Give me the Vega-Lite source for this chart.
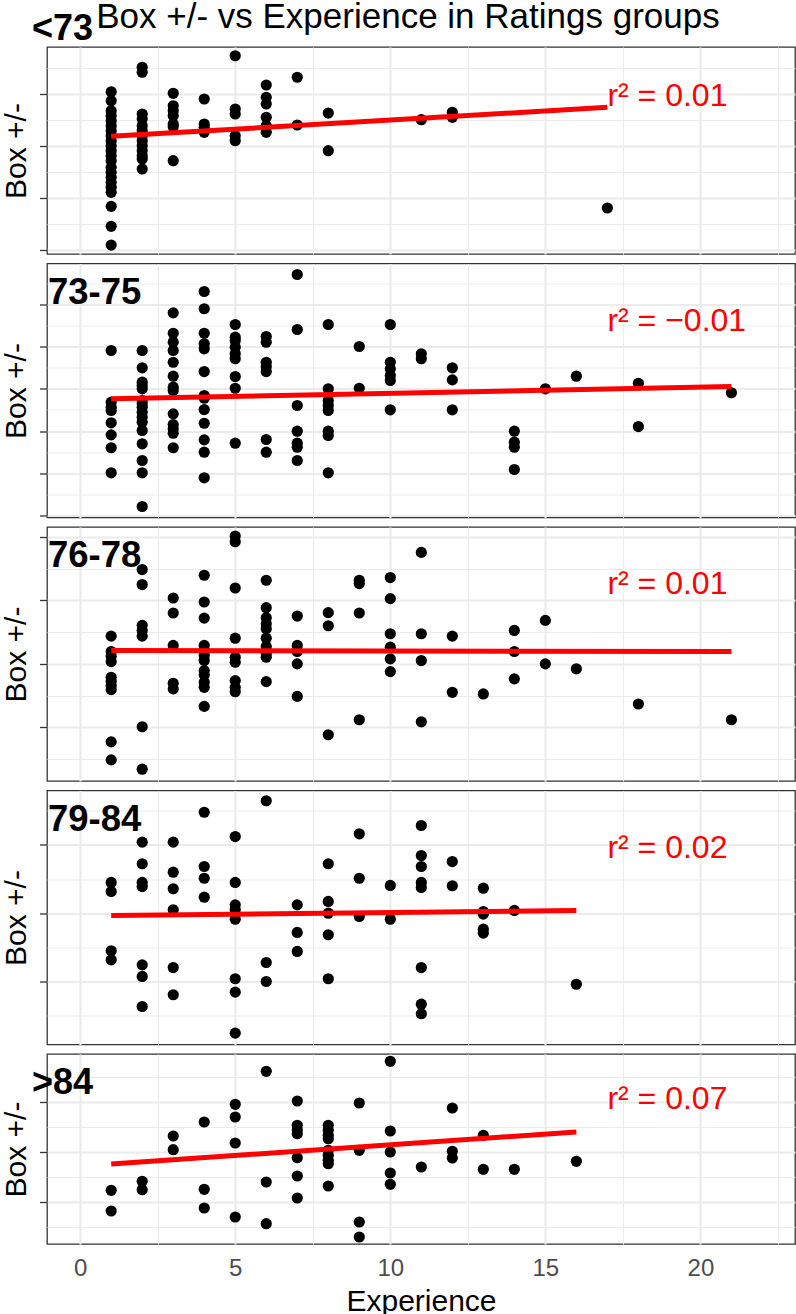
{
  "$schema": "https://vega.github.io/schema/vega-lite/v6.json",
  "padding": {"left": 1, "right": 3, "top": 0, "bottom": 0},
  "title": {"text": "Box +/- vs Experience in Ratings groups", "fontSize": 35, "fontWeight": "normal", "font": "Liberation Sans", "color": "black", "anchor": "start", "frame": "bounds", "dx": 95, "offset": -25},
  "config": {
    "font": "Liberation Sans",
    "view": {"stroke": "#333333", "strokeWidth": 1.3},
    "axis": {"gridColor": "#EBEBEB", "tickColor": "#333333", "tickWidth": 1.3, "tickSize": 7.5, "labelFont": "Liberation Sans", "titleFont": "Liberation Sans", "titleFontWeight": "normal", "titleColor": "black", "labelColor": "#4D4D4D", "titleFontSize": 30, "labelFontSize": 24, "domain": false}
  },
  "spacing": 7.5,
  "datasets": {
    "pts": [
      {"g":"<73","e":1,"b":0.22},{"g":"<73","e":1,"b":-0.64},{"g":"<73","e":1,"b":-1.61},{"g":"<73","e":1,"b":-2.09},{"g":"<73","e":1,"b":-2.57},{"g":"<73","e":1,"b":-3.05},{"g":"<73","e":1,"b":-3.53},{"g":"<73","e":1,"b":-4.01},{"g":"<73","e":1,"b":-4.49},{"g":"<73","e":1,"b":-4.97},{"g":"<73","e":1,"b":-5.45},{"g":"<73","e":1,"b":-5.93},{"g":"<73","e":1,"b":-6.41},{"g":"<73","e":1,"b":-7.05},{"g":"<73","e":1,"b":-7.53},{"g":"<73","e":1,"b":-8.01},{"g":"<73","e":1,"b":-8.49},{"g":"<73","e":1,"b":-8.97},{"g":"<73","e":1,"b":-9.45},{"g":"<73","e":1,"b":-10.8},{"g":"<73","e":1,"b":-12.72},{"g":"<73","e":1,"b":-14.52},
      {"g":"<73","e":2,"b":2.57},{"g":"<73","e":2,"b":2.09},{"g":"<73","e":2,"b":-1.92},{"g":"<73","e":2,"b":-2.4},{"g":"<73","e":2,"b":-3.05},{"g":"<73","e":2,"b":-3.53},{"g":"<73","e":2,"b":-4.01},{"g":"<73","e":2,"b":-4.49},{"g":"<73","e":2,"b":-4.97},{"g":"<73","e":2,"b":-5.45},{"g":"<73","e":2,"b":-5.93},{"g":"<73","e":2,"b":-6.25},{"g":"<73","e":2,"b":-7.21},
      {"g":"<73","e":3,"b":0.07},{"g":"<73","e":3,"b":-1.13},{"g":"<73","e":3,"b":-1.61},{"g":"<73","e":3,"b":-2.09},{"g":"<73","e":3,"b":-2.88},{"g":"<73","e":3,"b":-3.14},{"g":"<73","e":3,"b":-6.41},
      {"g":"<73","e":4,"b":-0.48},{"g":"<73","e":4,"b":-2.88},{"g":"<73","e":4,"b":-3.2},{"g":"<73","e":4,"b":-3.68},
      {"g":"<73","e":5,"b":3.68},{"g":"<73","e":5,"b":-1.44},{"g":"<73","e":5,"b":-1.92},{"g":"<73","e":5,"b":-4.01},{"g":"<73","e":5,"b":-4.49},
      {"g":"<73","e":6,"b":0.87},{"g":"<73","e":6,"b":-0.32},{"g":"<73","e":6,"b":-0.96},{"g":"<73","e":6,"b":-2.24},{"g":"<73","e":6,"b":-3.05},{"g":"<73","e":6,"b":-3.68},
      {"g":"<73","e":7,"b":1.61},{"g":"<73","e":7,"b":-2.98},
      {"g":"<73","e":8,"b":-1.83},{"g":"<73","e":8,"b":-5.45},
      {"g":"<73","e":11,"b":-2.47},
      {"g":"<73","e":12,"b":-1.76},{"g":"<73","e":12,"b":-2.24},
      {"g":"<73","e":17,"b":-10.96},

      {"g":"73-75","e":1,"b":4.53},{"g":"73-75","e":1,"b":-1.58},{"g":"73-75","e":1,"b":-2.17},{"g":"73-75","e":1,"b":-2.56},{"g":"73-75","e":1,"b":-4.02},{"g":"73-75","e":1,"b":-5.44},{"g":"73-75","e":1,"b":-6.97},{"g":"73-75","e":1,"b":-9.93},
      {"g":"73-75","e":2,"b":4.53},{"g":"73-75","e":2,"b":2.48},{"g":"73-75","e":2,"b":0.78},{"g":"73-75","e":2,"b":0.39},{"g":"73-75","e":2,"b":0},{"g":"73-75","e":2,"b":-1.38},{"g":"73-75","e":2,"b":-1.77},{"g":"73-75","e":2,"b":-2.17},{"g":"73-75","e":2,"b":-2.77},{"g":"73-75","e":2,"b":-3.36},{"g":"73-75","e":2,"b":-3.95},{"g":"73-75","e":2,"b":-4.93},{"g":"73-75","e":2,"b":-6.5},{"g":"73-75","e":2,"b":-8.47},{"g":"73-75","e":2,"b":-9.93},{"g":"73-75","e":2,"b":-13.91},
      {"g":"73-75","e":3,"b":8.98},{"g":"73-75","e":3,"b":6.57},{"g":"73-75","e":3,"b":5.51},{"g":"73-75","e":3,"b":4.53},{"g":"73-75","e":3,"b":3.14},{"g":"73-75","e":3,"b":1.49},{"g":"73-75","e":3,"b":0.19},{"g":"73-75","e":3,"b":-0.2},{"g":"73-75","e":3,"b":-2.96},{"g":"73-75","e":3,"b":-4.22},{"g":"73-75","e":3,"b":-4.73},{"g":"73-75","e":3,"b":-5.25},{"g":"73-75","e":3,"b":-6.97},
      {"g":"73-75","e":4,"b":11.5},{"g":"73-75","e":4,"b":9.46},{"g":"73-75","e":4,"b":6.57},{"g":"73-75","e":4,"b":5.32},{"g":"73-75","e":4,"b":4.73},{"g":"73-75","e":4,"b":2.04},{"g":"73-75","e":4,"b":-0.79},{"g":"73-75","e":4,"b":-1.11},{"g":"73-75","e":4,"b":-2.45},{"g":"73-75","e":4,"b":-4.07},{"g":"73-75","e":4,"b":-6.03},{"g":"73-75","e":4,"b":-7.49},{"g":"73-75","e":4,"b":-10.52},
      {"g":"73-75","e":5,"b":7.6},{"g":"73-75","e":5,"b":6.1},{"g":"73-75","e":5,"b":5.71},{"g":"73-75","e":5,"b":4.92},{"g":"73-75","e":5,"b":4.14},{"g":"73-75","e":5,"b":3.55},{"g":"73-75","e":5,"b":1.45},{"g":"73-75","e":5,"b":0.07},{"g":"73-75","e":5,"b":-6.43},
      {"g":"73-75","e":6,"b":6.18},{"g":"73-75","e":6,"b":5.51},{"g":"73-75","e":6,"b":3.14},{"g":"73-75","e":6,"b":2.64},{"g":"73-75","e":6,"b":2.04},{"g":"73-75","e":6,"b":-5.99},{"g":"73-75","e":6,"b":-7.49},
      {"g":"73-75","e":7,"b":13.51},{"g":"73-75","e":7,"b":7.01},{"g":"73-75","e":7,"b":-1.97},{"g":"73-75","e":7,"b":-5.01},{"g":"73-75","e":7,"b":-6.43},{"g":"73-75","e":7,"b":-6.9},{"g":"73-75","e":7,"b":-8.47},
      {"g":"73-75","e":8,"b":7.6},{"g":"73-75","e":8,"b":0},{"g":"73-75","e":8,"b":-1.38},{"g":"73-75","e":8,"b":-1.97},{"g":"73-75","e":8,"b":-2.56},{"g":"73-75","e":8,"b":-5.01},{"g":"73-75","e":8,"b":-5.52},{"g":"73-75","e":8,"b":-9.93},
      {"g":"73-75","e":9,"b":5.0},{"g":"73-75","e":9,"b":0.07},
      {"g":"73-75","e":10,"b":7.6},{"g":"73-75","e":10,"b":3.14},{"g":"73-75","e":10,"b":2.36},{"g":"73-75","e":10,"b":1.57},{"g":"73-75","e":10,"b":0.98},{"g":"73-75","e":10,"b":-2.48},
      {"g":"73-75","e":11,"b":4.14},{"g":"73-75","e":11,"b":3.55},
      {"g":"73-75","e":12,"b":2.48},{"g":"73-75","e":12,"b":1.06},{"g":"73-75","e":12,"b":-2.48},
      {"g":"73-75","e":14,"b":-5.01},{"g":"73-75","e":14,"b":-6.31},{"g":"73-75","e":14,"b":-6.9},{"g":"73-75","e":14,"b":-9.54},
      {"g":"73-75","e":15,"b":0},
      {"g":"73-75","e":16,"b":1.49},
      {"g":"73-75","e":18,"b":0.66},{"g":"73-75","e":18,"b":-4.46},
      {"g":"73-75","e":21,"b":-0.47},

      {"g":"76-78","e":1,"b":2.18},{"g":"76-78","e":1,"b":0.97},{"g":"76-78","e":1,"b":0.6},{"g":"76-78","e":1,"b":0.18},{"g":"76-78","e":1,"b":-1.06},{"g":"76-78","e":1,"b":-1.37},{"g":"76-78","e":1,"b":-1.71},{"g":"76-78","e":1,"b":-2.03},{"g":"76-78","e":1,"b":-6.14},{"g":"76-78","e":1,"b":-7.56},
      {"g":"76-78","e":2,"b":7.42},{"g":"76-78","e":2,"b":6.24},{"g":"76-78","e":2,"b":3.03},{"g":"76-78","e":2,"b":2.63},{"g":"76-78","e":2,"b":2.18},{"g":"76-78","e":2,"b":-4.95},{"g":"76-78","e":2,"b":-8.29},
      {"g":"76-78","e":3,"b":5.18},{"g":"76-78","e":3,"b":4.0},{"g":"76-78","e":3,"b":1.45},{"g":"76-78","e":3,"b":-1.53},{"g":"76-78","e":3,"b":-1.97},
      {"g":"76-78","e":4,"b":6.97},{"g":"76-78","e":4,"b":4.87},{"g":"76-78","e":4,"b":3.6},{"g":"76-78","e":4,"b":1.45},{"g":"76-78","e":4,"b":1.05},{"g":"76-78","e":4,"b":0.66},{"g":"76-78","e":4,"b":0.26},{"g":"76-78","e":4,"b":-0.53},{"g":"76-78","e":4,"b":-0.87},{"g":"76-78","e":4,"b":-1.45},{"g":"76-78","e":4,"b":-1.85},{"g":"76-78","e":4,"b":-3.35},
      {"g":"76-78","e":5,"b":10.06},{"g":"76-78","e":5,"b":9.61},{"g":"76-78","e":5,"b":5.97},{"g":"76-78","e":5,"b":2.02},{"g":"76-78","e":5,"b":0.52},{"g":"76-78","e":5,"b":0.13},{"g":"76-78","e":5,"b":-1.32},{"g":"76-78","e":5,"b":-1.85},{"g":"76-78","e":5,"b":-2.19},
      {"g":"76-78","e":6,"b":6.58},{"g":"76-78","e":6,"b":4.42},{"g":"76-78","e":6,"b":3.63},{"g":"76-78","e":6,"b":3.16},{"g":"76-78","e":6,"b":2.76},{"g":"76-78","e":6,"b":2.02},{"g":"76-78","e":6,"b":1.37},{"g":"76-78","e":6,"b":0.79},{"g":"76-78","e":6,"b":0.52},{"g":"76-78","e":6,"b":-1.4},
      {"g":"76-78","e":7,"b":3.76},{"g":"76-78","e":7,"b":1.45},{"g":"76-78","e":7,"b":0.97},{"g":"76-78","e":7,"b":0},{"g":"76-78","e":7,"b":-2.56},
      {"g":"76-78","e":8,"b":4.03},{"g":"76-78","e":8,"b":3.0},{"g":"76-78","e":8,"b":-5.58},
      {"g":"76-78","e":9,"b":6.58},{"g":"76-78","e":9,"b":6.32},{"g":"76-78","e":9,"b":4.0},{"g":"76-78","e":9,"b":-4.4},
      {"g":"76-78","e":10,"b":6.79},{"g":"76-78","e":10,"b":5.13},{"g":"76-78","e":10,"b":2.37},{"g":"76-78","e":10,"b":1.31},{"g":"76-78","e":10,"b":0.39},{"g":"76-78","e":10,"b":-0.61},
      {"g":"76-78","e":11,"b":8.77},{"g":"76-78","e":11,"b":2.37},{"g":"76-78","e":11,"b":0.26},{"g":"76-78","e":11,"b":-4.56},
      {"g":"76-78","e":12,"b":2.18},{"g":"76-78","e":12,"b":-2.24},
      {"g":"76-78","e":13,"b":-2.37},
      {"g":"76-78","e":14,"b":2.63},{"g":"76-78","e":14,"b":0.97},{"g":"76-78","e":14,"b":-1.18},
      {"g":"76-78","e":15,"b":3.42},{"g":"76-78","e":15,"b":0},
      {"g":"76-78","e":16,"b":-0.39},
      {"g":"76-78","e":18,"b":-3.16},
      {"g":"76-78","e":21,"b":-4.4},

      {"g":"79-84","e":1,"b":2.25},{"g":"79-84","e":1,"b":1.59},{"g":"79-84","e":1,"b":-2.75},{"g":"79-84","e":1,"b":-3.41},
      {"g":"79-84","e":2,"b":5.2},{"g":"79-84","e":2,"b":3.62},{"g":"79-84","e":2,"b":2.25},{"g":"79-84","e":2,"b":1.95},{"g":"79-84","e":2,"b":-3.78},{"g":"79-84","e":2,"b":-4.63},{"g":"79-84","e":2,"b":-6.83},
      {"g":"79-84","e":3,"b":5.2},{"g":"79-84","e":3,"b":3.0},{"g":"79-84","e":3,"b":1.79},{"g":"79-84","e":3,"b":0.25},{"g":"79-84","e":3,"b":-3.98},{"g":"79-84","e":3,"b":-5.97},
      {"g":"79-84","e":4,"b":7.39},{"g":"79-84","e":4,"b":3.42},{"g":"79-84","e":4,"b":2.56},{"g":"79-84","e":4,"b":1.17},
      {"g":"79-84","e":5,"b":5.61},{"g":"79-84","e":5,"b":2.25},{"g":"79-84","e":5,"b":0.61},{"g":"79-84","e":5,"b":0.25},{"g":"79-84","e":5,"b":-0.44},{"g":"79-84","e":5,"b":-4.8},{"g":"79-84","e":5,"b":-5.78},{"g":"79-84","e":5,"b":-8.78},
      {"g":"79-84","e":6,"b":8.23},{"g":"79-84","e":6,"b":-3.61},{"g":"79-84","e":6,"b":-5.0},
      {"g":"79-84","e":7,"b":0.61},{"g":"79-84","e":7,"b":-1.41},{"g":"79-84","e":7,"b":-2.8},
      {"g":"79-84","e":8,"b":3.62},{"g":"79-84","e":8,"b":0.86},{"g":"79-84","e":8,"b":0},{"g":"79-84","e":8,"b":-1.58},{"g":"79-84","e":8,"b":-4.8},
      {"g":"79-84","e":9,"b":5.81},{"g":"79-84","e":9,"b":2.56},{"g":"79-84","e":9,"b":-0.24},
      {"g":"79-84","e":10,"b":2.03},{"g":"79-84","e":10,"b":-0.44},
      {"g":"79-84","e":11,"b":6.42},{"g":"79-84","e":11,"b":4.22},{"g":"79-84","e":11,"b":3.42},{"g":"79-84","e":11,"b":2.25},{"g":"79-84","e":11,"b":1.88},{"g":"79-84","e":11,"b":-3.98},{"g":"79-84","e":11,"b":-6.66},{"g":"79-84","e":11,"b":-7.36},
      {"g":"79-84","e":12,"b":3.78},{"g":"79-84","e":12,"b":2.01},
      {"g":"79-84","e":13,"b":1.83},{"g":"79-84","e":13,"b":0.12},{"g":"79-84","e":13,"b":-0.07},{"g":"79-84","e":13,"b":-1.17},{"g":"79-84","e":13,"b":-1.46},
      {"g":"79-84","e":14,"b":0.2},
      {"g":"79-84","e":16,"b":-5.2},

      {"g":">84","e":1,"b":-3.83},{"g":">84","e":1,"b":-5.9},
      {"g":">84","e":2,"b":-2.93},{"g":">84","e":2,"b":-3.77},
      {"g":">84","e":3,"b":1.6},{"g":">84","e":3,"b":0.23},
      {"g":">84","e":4,"b":3.0},{"g":">84","e":4,"b":-3.73},{"g":">84","e":4,"b":-5.6},
      {"g":">84","e":5,"b":4.77},{"g":">84","e":5,"b":3.5},{"g":">84","e":5,"b":0.9},{"g":">84","e":5,"b":-6.5},
      {"g":">84","e":6,"b":8.07},{"g":">84","e":6,"b":-3.0},{"g":">84","e":6,"b":-7.17},
      {"g":">84","e":7,"b":5.1},{"g":">84","e":7,"b":2.67},{"g":">84","e":7,"b":2.23},{"g":">84","e":7,"b":1.83},{"g":">84","e":7,"b":-0.57},{"g":">84","e":7,"b":-2.4},{"g":">84","e":7,"b":-4.6},
      {"g":">84","e":8,"b":2.67},{"g":">84","e":8,"b":2.17},{"g":">84","e":8,"b":1.67},{"g":">84","e":8,"b":1.33},{"g":">84","e":8,"b":0.17},{"g":">84","e":8,"b":-0.33},{"g":">84","e":8,"b":-0.83},{"g":">84","e":8,"b":-1.17},{"g":">84","e":8,"b":-3.4},
      {"g":">84","e":9,"b":4.9},{"g":">84","e":9,"b":0.17},{"g":">84","e":9,"b":-7.0},{"g":">84","e":9,"b":-8.5},
      {"g":">84","e":10,"b":9.07},{"g":">84","e":10,"b":2.1},{"g":">84","e":10,"b":0},{"g":">84","e":10,"b":-2.1},{"g":">84","e":10,"b":-3.23},
      {"g":">84","e":11,"b":-1.5},
      {"g":">84","e":12,"b":4.4},{"g":">84","e":12,"b":0.07},{"g":">84","e":12,"b":-0.6},
      {"g":">84","e":13,"b":1.67},{"g":">84","e":13,"b":-1.73},
      {"g":">84","e":14,"b":-1.73},
      {"g":">84","e":16,"b":-0.93}
    ],
    "fit": [
      {"g":"<73","e":1,"b":-4.07},{"g":"<73","e":17,"b":-1.28},
      {"g":"73-75","e":1,"b":-1.18},{"g":"73-75","e":21,"b":0.27},
      {"g":"76-78","e":1,"b":1.05},{"g":"76-78","e":21,"b":0.97},
      {"g":"79-84","e":1,"b":-0.17},{"g":"79-84","e":16,"b":0.2},
      {"g":">84","e":1,"b":-1.2},{"g":">84","e":16,"b":2.0}
    ],
    "stats": [
      {"g":"<73","r2":0.01},
      {"g":"73-75","r2":-0.01},
      {"g":"76-78","r2":0.01},
      {"g":"79-84","r2":0.02},
      {"g":">84","r2":0.07}
    ]
  },
  "vconcat": [
    {
      "width": 748, "height": 207,
      "resolve": {"axis": {"x": "independent", "y": "independent"}},
      "layer": [
        {"data": {"name": "pts"}, "transform": [{"filter": "datum.g === '<73'"}],
         "mark": {"type": "circle", "size": 125, "opacity": 1, "color": "black"},
         "encoding": {
           "x": {"field": "e", "type": "quantitative", "scale": {"domain": [-1.07, 23.05], "nice": false, "zero": false}, "axis": {"values": [0,5,10,15,20], "grid": true, "gridWidth": 2.2, "labels": false, "ticks": false, "title": null}},
           "y": {"field": "b", "type": "quantitative", "scale": {"domain": [-15.38, 4.52], "nice": false, "zero": false}, "axis": {"values": [-15,-10,-5,0], "grid": true, "gridWidth": 2.2, "labels": false, "ticks": true, "title": "Box +/-", "titlePadding": 7}}
         }},
        {"data": {"name": "fit"}, "transform": [{"filter": "datum.g === '<73'"}],
         "mark": {"type": "line", "color": "#FF0000", "strokeWidth": 5},
         "encoding": {
           "x": {"field": "e", "type": "quantitative", "scale": {"domain": [-1.07, 23.05], "nice": false, "zero": false}, "axis": {"values": [2.5,7.5,12.5,17.5,22.5], "grid": true, "gridWidth": 1.1, "labels": false, "ticks": false, "title": null}},
           "y": {"field": "b", "type": "quantitative", "scale": {"domain": [-15.38, 4.52], "nice": false, "zero": false}, "axis": {"values": [-12.5,-7.5,-2.5,2.5], "grid": true, "gridWidth": 1.1, "labels": false, "ticks": false, "title": null}}
         }},
        {"data": {"name": "stats"}, "transform": [{"filter": "datum.g === '<73'"}, {"calculate": "'r² = ' + (datum.r2 < 0 ? '−' : '') + format(abs(datum.r2), '.2f')", "as": "lab"}],
         "mark": {"type": "text", "align": "left", "baseline": "alphabetic", "fontSize": 32, "color": "#FF0000"},
         "encoding": {
           "x": {"datum": 17, "type": "quantitative", "scale": {"domain": [-1.07, 23.05], "nice": false, "zero": false}, "axis": null},
           "y": {"datum": -1.15, "type": "quantitative", "scale": {"domain": [-15.38, 4.52], "nice": false, "zero": false}, "axis": null},
           "text": {"field": "lab"}
         }},
        {"data": {"name": "stats"}, "transform": [{"filter": "datum.g === '<73'"}],
         "mark": {"type": "text", "align": "left", "baseline": "alphabetic", "fontSize": 36, "fontWeight": "bold", "color": "black", "dx": -15, "dy": -7},
         "encoding": {
           "x": {"datum": -1.07, "type": "quantitative", "scale": {"domain": [-1.07, 23.05], "nice": false, "zero": false}, "axis": null},
           "y": {"datum": 4.52, "type": "quantitative", "scale": {"domain": [-15.38, 4.52], "nice": false, "zero": false}, "axis": null},
           "text": {"field": "g"}
         }}
      ]
    },
    {
      "width": 748, "height": 254,
      "resolve": {"axis": {"x": "independent", "y": "independent"}},
      "layer": [
        {"data": {"name": "pts"}, "transform": [{"filter": "datum.g === '73-75'"}],
         "mark": {"type": "circle", "size": 125, "opacity": 1, "color": "black"},
         "encoding": {
           "x": {"field": "e", "type": "quantitative", "scale": {"domain": [-1.07, 23.05], "nice": false, "zero": false}, "axis": {"values": [0,5,10,15,20], "grid": true, "gridWidth": 2.2, "labels": false, "ticks": false, "title": null}},
           "y": {"field": "b", "type": "quantitative", "scale": {"domain": [-15.21, 14.81], "nice": false, "zero": false}, "axis": {"values": [-15,-10,-5,0,5,10], "grid": true, "gridWidth": 2.2, "labels": false, "ticks": true, "title": "Box +/-", "titlePadding": 7}}
         }},
        {"data": {"name": "fit"}, "transform": [{"filter": "datum.g === '73-75'"}],
         "mark": {"type": "line", "color": "#FF0000", "strokeWidth": 5},
         "encoding": {
           "x": {"field": "e", "type": "quantitative", "scale": {"domain": [-1.07, 23.05], "nice": false, "zero": false}, "axis": {"values": [2.5,7.5,12.5,17.5,22.5], "grid": true, "gridWidth": 1.1, "labels": false, "ticks": false, "title": null}},
           "y": {"field": "b", "type": "quantitative", "scale": {"domain": [-15.21, 14.81], "nice": false, "zero": false}, "axis": {"values": [-12.5,-7.5,-2.5,2.5,7.5,12.5], "grid": true, "gridWidth": 1.1, "labels": false, "ticks": false, "title": null}}
         }},
        {"data": {"name": "stats"}, "transform": [{"filter": "datum.g === '73-75'"}, {"calculate": "'r² = ' + (datum.r2 < 0 ? '−' : '') + format(abs(datum.r2), '.2f')", "as": "lab"}],
         "mark": {"type": "text", "align": "left", "baseline": "alphabetic", "fontSize": 32, "color": "#FF0000"},
         "encoding": {
           "x": {"datum": 17, "type": "quantitative", "scale": {"domain": [-1.07, 23.05], "nice": false, "zero": false}, "axis": null},
           "y": {"datum": 6.81, "type": "quantitative", "scale": {"domain": [-15.21, 14.81], "nice": false, "zero": false}, "axis": null},
           "text": {"field": "lab"}
         }},
        {"data": {"name": "stats"}, "transform": [{"filter": "datum.g === '73-75'"}],
         "mark": {"type": "text", "align": "left", "baseline": "alphabetic", "fontSize": 36.5, "fontWeight": "bold", "color": "black", "dx": 1, "dy": 40},
         "encoding": {
           "x": {"datum": -1.07, "type": "quantitative", "scale": {"domain": [-1.07, 23.05], "nice": false, "zero": false}, "axis": null},
           "y": {"datum": 14.81, "type": "quantitative", "scale": {"domain": [-15.21, 14.81], "nice": false, "zero": false}, "axis": null},
           "text": {"field": "g"}
         }}
      ]
    },
    {
      "width": 748, "height": 254,
      "resolve": {"axis": {"x": "independent", "y": "independent"}},
      "layer": [
        {"data": {"name": "pts"}, "transform": [{"filter": "datum.g === '76-78'"}],
         "mark": {"type": "circle", "size": 125, "opacity": 1, "color": "black"},
         "encoding": {
           "x": {"field": "e", "type": "quantitative", "scale": {"domain": [-1.07, 23.05], "nice": false, "zero": false}, "axis": {"values": [0,5,10,15,20], "grid": true, "gridWidth": 2.2, "labels": false, "ticks": false, "title": null}},
           "y": {"field": "b", "type": "quantitative", "scale": {"domain": [-9.22, 10.77], "nice": false, "zero": false}, "axis": {"values": [-5,0,5,10], "grid": true, "gridWidth": 2.2, "labels": false, "ticks": true, "title": "Box +/-", "titlePadding": 7}}
         }},
        {"data": {"name": "fit"}, "transform": [{"filter": "datum.g === '76-78'"}],
         "mark": {"type": "line", "color": "#FF0000", "strokeWidth": 5},
         "encoding": {
           "x": {"field": "e", "type": "quantitative", "scale": {"domain": [-1.07, 23.05], "nice": false, "zero": false}, "axis": {"values": [2.5,7.5,12.5,17.5,22.5], "grid": true, "gridWidth": 1.1, "labels": false, "ticks": false, "title": null}},
           "y": {"field": "b", "type": "quantitative", "scale": {"domain": [-9.22, 10.77], "nice": false, "zero": false}, "axis": {"values": [-7.5,-2.5,2.5,7.5], "grid": true, "gridWidth": 1.1, "labels": false, "ticks": false, "title": null}}
         }},
        {"data": {"name": "stats"}, "transform": [{"filter": "datum.g === '76-78'"}, {"calculate": "'r² = ' + (datum.r2 < 0 ? '−' : '') + format(abs(datum.r2), '.2f')", "as": "lab"}],
         "mark": {"type": "text", "align": "left", "baseline": "alphabetic", "fontSize": 32, "color": "#FF0000"},
         "encoding": {
           "x": {"datum": 17, "type": "quantitative", "scale": {"domain": [-1.07, 23.05], "nice": false, "zero": false}, "axis": null},
           "y": {"datum": 5.47, "type": "quantitative", "scale": {"domain": [-9.22, 10.77], "nice": false, "zero": false}, "axis": null},
           "text": {"field": "lab"}
         }},
        {"data": {"name": "stats"}, "transform": [{"filter": "datum.g === '76-78'"}],
         "mark": {"type": "text", "align": "left", "baseline": "alphabetic", "fontSize": 36.5, "fontWeight": "bold", "color": "black", "dx": 1, "dy": 40},
         "encoding": {
           "x": {"datum": -1.07, "type": "quantitative", "scale": {"domain": [-1.07, 23.05], "nice": false, "zero": false}, "axis": null},
           "y": {"datum": 10.77, "type": "quantitative", "scale": {"domain": [-9.22, 10.77], "nice": false, "zero": false}, "axis": null},
           "text": {"field": "g"}
         }}
      ]
    },
    {
      "width": 748, "height": 254,
      "resolve": {"axis": {"x": "independent", "y": "independent"}},
      "layer": [
        {"data": {"name": "pts"}, "transform": [{"filter": "datum.g === '79-84'"}],
         "mark": {"type": "circle", "size": 125, "opacity": 1, "color": "black"},
         "encoding": {
           "x": {"field": "e", "type": "quantitative", "scale": {"domain": [-1.07, 23.05], "nice": false, "zero": false}, "axis": {"values": [0,5,10,15,20], "grid": true, "gridWidth": 2.2, "labels": false, "ticks": false, "title": null}},
           "y": {"field": "b", "type": "quantitative", "scale": {"domain": [-9.61, 8.98], "nice": false, "zero": false}, "axis": {"values": [-5,0,5], "grid": true, "gridWidth": 2.2, "labels": false, "ticks": true, "title": "Box +/-", "titlePadding": 7}}
         }},
        {"data": {"name": "fit"}, "transform": [{"filter": "datum.g === '79-84'"}],
         "mark": {"type": "line", "color": "#FF0000", "strokeWidth": 5},
         "encoding": {
           "x": {"field": "e", "type": "quantitative", "scale": {"domain": [-1.07, 23.05], "nice": false, "zero": false}, "axis": {"values": [2.5,7.5,12.5,17.5,22.5], "grid": true, "gridWidth": 1.1, "labels": false, "ticks": false, "title": null}},
           "y": {"field": "b", "type": "quantitative", "scale": {"domain": [-9.61, 8.98], "nice": false, "zero": false}, "axis": {"values": [-7.5,-2.5,2.5,7.5], "grid": true, "gridWidth": 1.1, "labels": false, "ticks": false, "title": null}}
         }},
        {"data": {"name": "stats"}, "transform": [{"filter": "datum.g === '79-84'"}, {"calculate": "'r² = ' + (datum.r2 < 0 ? '−' : '') + format(abs(datum.r2), '.2f')", "as": "lab"}],
         "mark": {"type": "text", "align": "left", "baseline": "alphabetic", "fontSize": 32, "color": "#FF0000"},
         "encoding": {
           "x": {"datum": 17, "type": "quantitative", "scale": {"domain": [-1.07, 23.05], "nice": false, "zero": false}, "axis": null},
           "y": {"datum": 4.03, "type": "quantitative", "scale": {"domain": [-9.61, 8.98], "nice": false, "zero": false}, "axis": null},
           "text": {"field": "lab"}
         }},
        {"data": {"name": "stats"}, "transform": [{"filter": "datum.g === '79-84'"}],
         "mark": {"type": "text", "align": "left", "baseline": "alphabetic", "fontSize": 36.5, "fontWeight": "bold", "color": "black", "dx": 1, "dy": 40},
         "encoding": {
           "x": {"datum": -1.07, "type": "quantitative", "scale": {"domain": [-1.07, 23.05], "nice": false, "zero": false}, "axis": null},
           "y": {"datum": 8.98, "type": "quantitative", "scale": {"domain": [-9.61, 8.98], "nice": false, "zero": false}, "axis": null},
           "text": {"field": "g"}
         }}
      ]
    },
    {
      "width": 748, "height": 190,
      "resolve": {"axis": {"x": "independent", "y": "independent"}},
      "layer": [
        {"data": {"name": "pts"}, "transform": [{"filter": "datum.g === '>84'"}],
         "mark": {"type": "circle", "size": 125, "opacity": 1, "color": "black"},
         "encoding": {
           "x": {"field": "e", "type": "quantitative", "scale": {"domain": [-1.07, 23.05], "nice": false, "zero": false}, "axis": {"values": [0,5,10,15,20], "grid": true, "gridWidth": 2.2, "labels": true, "ticks": false, "labelPadding": 12, "title": "Experience", "titlePadding": 6, "orient": "bottom"}},
           "y": {"field": "b", "type": "quantitative", "scale": {"domain": [-9.2, 9.8], "nice": false, "zero": false}, "axis": {"values": [-5,0,5], "grid": true, "gridWidth": 2.2, "labels": false, "ticks": true, "title": "Box +/-", "titlePadding": 7}}
         }},
        {"data": {"name": "fit"}, "transform": [{"filter": "datum.g === '>84'"}],
         "mark": {"type": "line", "color": "#FF0000", "strokeWidth": 5},
         "encoding": {
           "x": {"field": "e", "type": "quantitative", "scale": {"domain": [-1.07, 23.05], "nice": false, "zero": false}, "axis": {"values": [2.5,7.5,12.5,17.5,22.5], "grid": true, "gridWidth": 1.1, "labels": false, "ticks": false, "title": null}},
           "y": {"field": "b", "type": "quantitative", "scale": {"domain": [-9.2, 9.8], "nice": false, "zero": false}, "axis": {"values": [-7.5,-2.5,2.5,7.5], "grid": true, "gridWidth": 1.1, "labels": false, "ticks": false, "title": null}}
         }},
        {"data": {"name": "stats"}, "transform": [{"filter": "datum.g === '>84'"}, {"calculate": "'r² = ' + (datum.r2 < 0 ? '−' : '') + format(abs(datum.r2), '.2f')", "as": "lab"}],
         "mark": {"type": "text", "align": "left", "baseline": "alphabetic", "fontSize": 32, "color": "#FF0000"},
         "encoding": {
           "x": {"datum": 17, "type": "quantitative", "scale": {"domain": [-1.07, 23.05], "nice": false, "zero": false}, "axis": null},
           "y": {"datum": 4.33, "type": "quantitative", "scale": {"domain": [-9.2, 9.8], "nice": false, "zero": false}, "axis": null},
           "text": {"field": "lab"}
         }},
        {"data": {"name": "stats"}, "transform": [{"filter": "datum.g === '>84'"}],
         "mark": {"type": "text", "align": "left", "baseline": "alphabetic", "fontSize": 36, "fontWeight": "bold", "color": "black", "dx": -15, "dy": 40},
         "encoding": {
           "x": {"datum": -1.07, "type": "quantitative", "scale": {"domain": [-1.07, 23.05], "nice": false, "zero": false}, "axis": null},
           "y": {"datum": 9.8, "type": "quantitative", "scale": {"domain": [-9.2, 9.8], "nice": false, "zero": false}, "axis": null},
           "text": {"field": "g"}
         }}
      ]
    }
  ]
}
